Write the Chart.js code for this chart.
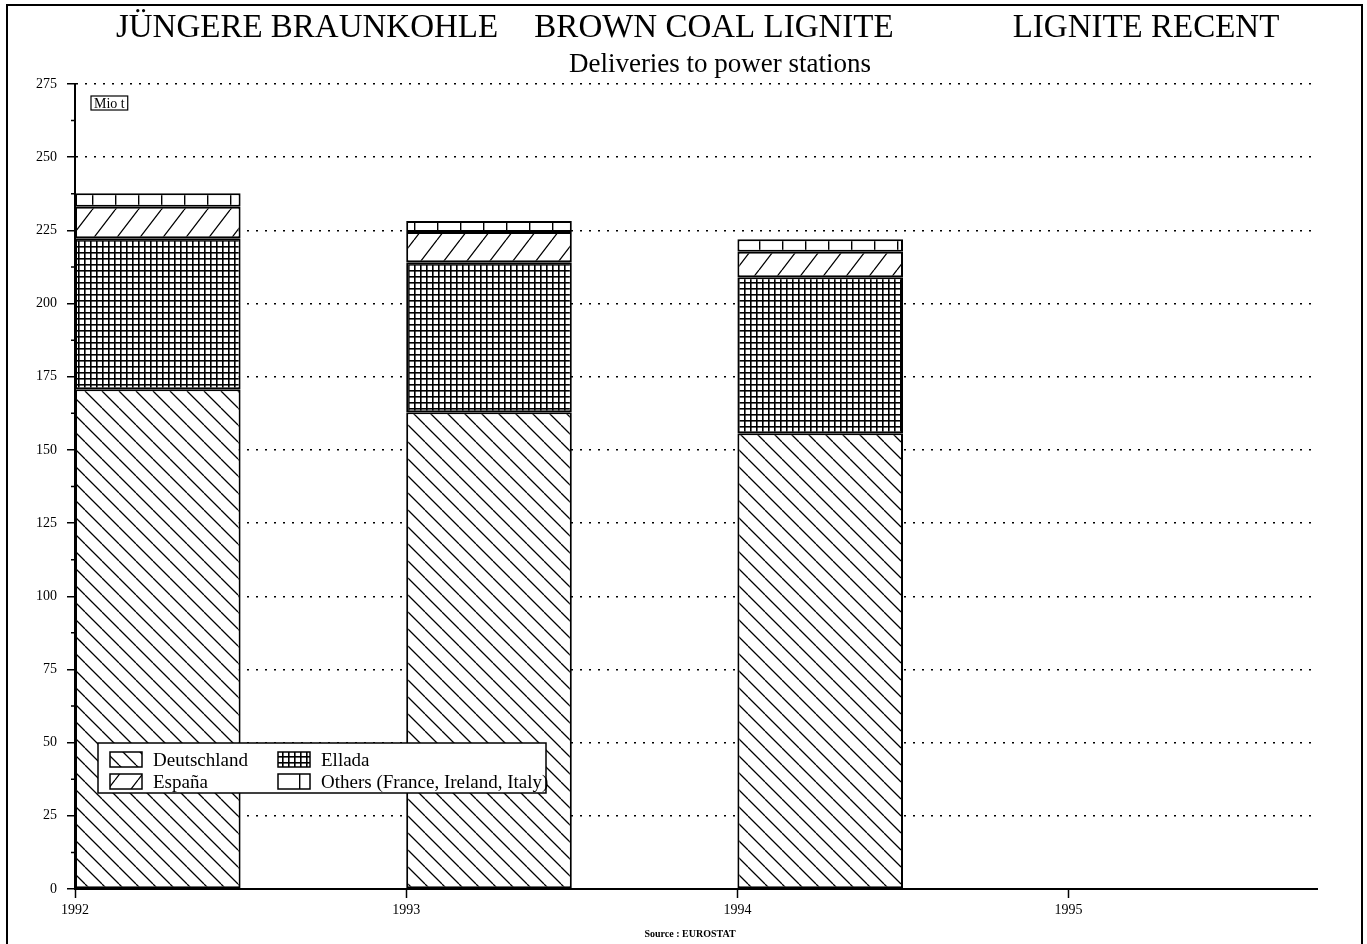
<!DOCTYPE html>
<html>
<head>
<meta charset="utf-8">
<script src="https://cdn.jsdelivr.net/npm/chart.js@4.4.1/dist/chart.umd.min.js"></script>
<style>
  html, body { margin: 0; padding: 0; background: #fff; }
  canvas { display: block; }
</style>
</head>
<body>
<canvas id="chart" width="1367" height="944"></canvas>
<script>
// values (Mio t)
const years = [1992, 1993, 1994];
const deutschland = [170.7, 162.9, 155.7];
const ellada = [51.6, 51.2, 53.3];
const espana = [10.8, 10.3, 8.7];
const others = [4.6, 3.8, 4.3];

const titles = ["JÜNGERE BRAUNKOHLE", "BROWN COAL LIGNITE", "LIGNITE RECENT"];
const subtitle = "Deliveries to power stations";
const unitLabel = "Mio t";
const sourceLabel = "Source : EUROSTAT";

const FONT = '"Liberation Serif", "Times New Roman", serif';
const canvas = document.getElementById("chart");
const ctx = canvas.getContext("2d");

// hatch patterns, like the old b/w print
function makePattern(w, h, draw) {
  const c = document.createElement("canvas");
  c.width = w;
  c.height = h;
  const g = c.getContext("2d");
  g.fillStyle = "#fff";
  g.fillRect(0, 0, w, h);
  g.strokeStyle = "#000";
  g.fillStyle = "#000";
  draw(g, w, h);
  return ctx.createPattern(c, "repeat");
}

const patDown = makePattern(17, 17, (g, w, h) => {
  g.lineWidth = 1.3;
  g.beginPath();
  for (const o of [-w, 0, w]) { g.moveTo(o, 0); g.lineTo(o + w, h); }
  g.stroke();
});
const patGrid = makePattern(6, 6, (g) => {
  g.fillRect(0, 0, 6, 1.6);
  g.fillRect(0, 0, 1.6, 6);
});
const patUp = makePattern(23, 30, (g, w, h) => {
  g.lineWidth = 1.3;
  g.beginPath();
  for (const o of [-w, 0, w]) { g.moveTo(o, h); g.lineTo(o + w, 0); }
  g.stroke();
});
const patVert = makePattern(23, 8, (g) => {
  g.fillRect(0, 0, 1.4, 8);
});

const makeSet = (label, values, pattern) => ({
  label: label,
  data: years.map((yr, i) => ({ x: yr + 0.25, y: values[i] })),
  backgroundColor: pattern,
  borderColor: "#000",
  borderWidth: 2,
  borderSkipped: false,
  stack: "total",
  categoryPercentage: 1,
  barPercentage: 0.5
});

const decorations = {
  id: "decorations",
  beforeDraw(chart) {
    const c = chart.ctx;
    c.save();
    // page frame
    c.strokeStyle = "#000";
    c.lineWidth = 2;
    c.beginPath();
    c.moveTo(7, 944);
    c.lineTo(7, 5);
    c.lineTo(1362, 5);
    c.lineTo(1362, 944);
    c.stroke();

    c.fillStyle = "#000";
    c.textAlign = "center";
    c.textBaseline = "alphabetic";
    c.font = "33px " + FONT;
    c.fillText(titles[0], 307, 37);
    c.fillText(titles[1], 714, 37);
    c.fillText(titles[2], 1146, 37);
    c.font = "27px " + FONT;
    c.fillText(subtitle, 720, 72);
    c.font = "bold 10px " + FONT;
    c.fillText(sourceLabel, 690, 937);
    c.restore();
  },
  afterDraw(chart) {
    const c = chart.ctx;
    const ca = chart.chartArea;
    const ys = chart.scales.y;
    c.save();
    c.strokeStyle = "#000";
    c.fillStyle = "#000";

    // minor ticks half way between the labelled ones
    c.lineWidth = 1.5;
    c.beginPath();
    for (let i = 0; i < ys.ticks.length - 1; i++) {
      const py = ys.getPixelForValue((ys.ticks[i].value + ys.ticks[i + 1].value) / 2);
      c.moveTo(ca.left - 4, py);
      c.lineTo(ca.left, py);
    }
    c.stroke();

    // unit box
    c.font = "14px " + FONT;
    c.textAlign = "left";
    c.textBaseline = "alphabetic";
    const uw = c.measureText(unitLabel).width + 6;
    c.lineWidth = 1.2;
    c.strokeRect(ca.left + 16, ca.top + 12, uw, 14);
    c.fillText(unitLabel, ca.left + 19, ca.top + 24);

    // legend box
    const bx = ca.left + 23, by = ca.bottom - 146, bw = 448, bh = 50;
    c.fillStyle = "#fff";
    c.fillRect(bx, by, bw, bh);
    c.lineWidth = 1.5;
    c.strokeRect(bx, by, bw, bh);
    c.font = "19px " + FONT;
    chart.data.datasets.forEach((ds, i) => {
      const col = i % 2, row = Math.floor(i / 2);
      const sx = bx + 12 + col * 168, sy = by + 9 + row * 22;
      c.fillStyle = ds.backgroundColor;
      c.fillRect(sx, sy, 32, 15);
      c.lineWidth = 1.5;
      c.strokeRect(sx, sy, 32, 15);
      c.fillStyle = "#000";
      c.fillText(ds.label, sx + 43, sy + 14);
    });
    c.restore();
  }
};

new Chart(canvas, {
  type: "bar",
  data: {
    datasets: [
      makeSet("Deutschland", deutschland, patDown),
      makeSet("Ellada", ellada, patGrid),
      makeSet("España", espana, patUp),
      makeSet("Others (France, Ireland, Italy)", others, patVert)
    ]
  },
  options: {
    responsive: false,
    animation: false,
    layout: { padding: { left: 15, top: 84, right: 50, bottom: 0 } },
    plugins: {
      legend: { display: false },
      tooltip: { enabled: false }
    },
    scales: {
      x: {
        type: "linear",
        min: 1992,
        max: 1995.75,
        offset: false,
        afterFit: (s) => { s.height = 55; },
        border: { color: "#000", width: 2 },
        grid: { offset: false, drawOnChartArea: false, tickLength: 9, tickColor: "#000", tickWidth: 1.5 },
        ticks: {
          stepSize: 1,
          includeBounds: false,
          autoSkip: false,
          maxRotation: 0,
          padding: 4,
          color: "#000",
          font: { family: FONT, size: 14 },
          callback: (v) => String(v)
        }
      },
      y: {
        min: 0,
        max: 275,
        afterFit: (s) => { s.width = 60; },
        border: { color: "#000", width: 2, dash: [2, 7] },
        grid: { color: "#000", lineWidth: 1.5, tickLength: 8, tickColor: "#000", tickWidth: 1.5, tickBorderDash: [] },
        ticks: {
          stepSize: 25,
          autoSkip: false,
          padding: 10,
          color: "#000",
          font: { family: FONT, size: 14 }
        }
      }
    }
  },
  plugins: [decorations]
});
</script>
</body>
</html>
